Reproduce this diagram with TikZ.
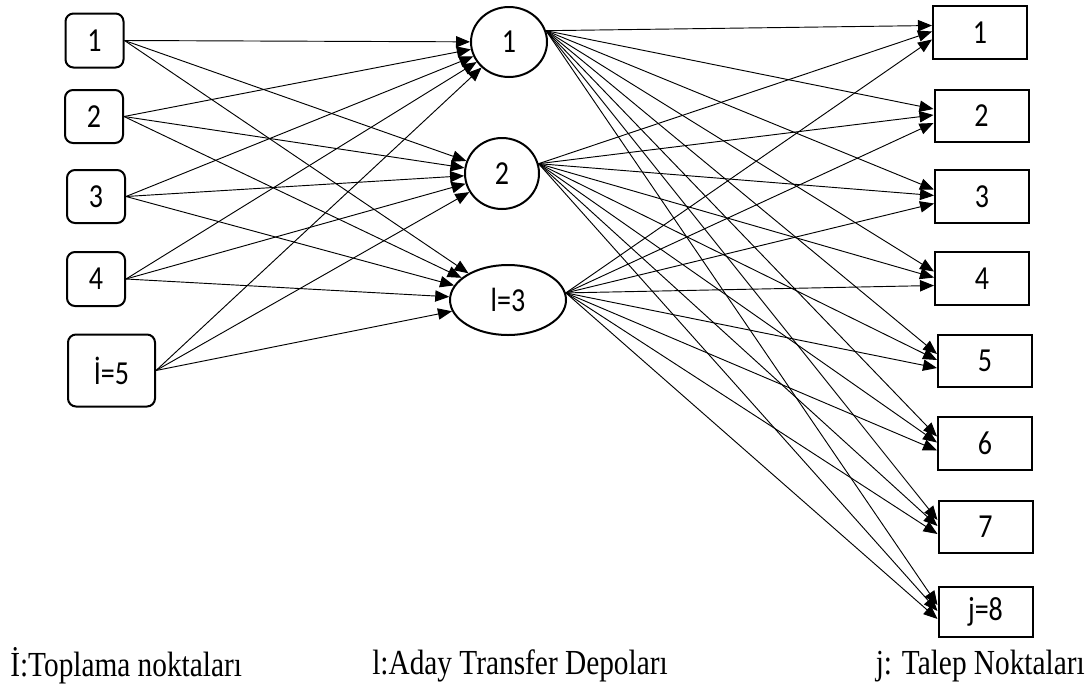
\documentclass[tikz,border=0pt]{standalone}
\usepackage{fontspec}
\usepackage{graphicx}
\setmainfont{Liberation Serif}
\newfontfamily\calfont{Carlito}
\newcommand{\vstretch}[1]{\scalebox{1}[1.2]{#1}}
\usetikzlibrary{arrows.meta,shapes.geometric}
\begin{document}
\begin{tikzpicture}[x=0.75pt,y=-0.75pt,
  numfont/.style={font=\calfont\fontsize{21}{24}\selectfont},
  src/.style={draw,line width=1.5pt,rounded corners=6pt,inner sep=0pt,numfont},
  hub/.style={draw,ellipse,line width=1.5pt,inner sep=0pt,numfont},
  dem/.style={draw,rectangle,line width=1.5pt,inner sep=0pt,numfont,minimum width=70.5pt,minimum height=39.5pt},
  lbl/.style={font=\fontsize{22}{26}\selectfont,inner sep=0pt},
  link/.style={line width=0.7pt,-{Triangle[length=10.5pt,width=8.5pt]}}]
\useasboundingbox (0,0) rectangle (1089,686);
% source nodes
\node[src,minimum width=43.5pt,minimum height=40.5pt] (l1) at (94.5,40.5) {\vstretch{1}};
\node[src,minimum width=43.5pt,minimum height=39.75pt] (l2) at (94,116.5) {\vstretch{2}};
\node[src,minimum width=43.5pt,minimum height=39.75pt] (l3) at (96,196.5) {\vstretch{3}};
\node[src,minimum width=43.5pt,minimum height=40.5pt] (l4) at (96,279) {\vstretch{4}};
\node[src,minimum width=65.25pt,minimum height=54pt] (l5) at (111.5,370.5) {\vstretch{İ=5}};
% hubs
\node[hub,minimum width=57pt,minimum height=52.5pt] (e1) at (509,42) {\vstretch{1}};
\node[hub,minimum width=55.5pt,minimum height=53.25pt] (e2) at (502,173.5) {\vstretch{2}};
\node[hub,minimum width=87pt,minimum height=52.5pt] (e3) at (508,300) {\vstretch{l=3}};
% demand nodes
\node[dem] (r1) at (980,32.5) {\vstretch{1}};
\node[dem] (r2) at (981.5,116) {\vstretch{2}};
\node[dem] (r3) at (982,196.5) {\vstretch{3}};
\node[dem] (r4) at (982,278.5) {\vstretch{4}};
\node[dem] (r5) at (985,361) {\vstretch{5}};
\node[dem] (r6) at (985,443.5) {\vstretch{6}};
\node[dem] (r7) at (985.5,527) {\vstretch{7}};
\node[dem,minimum height=37.5pt] (r8) at (985.5,612) {\vstretch{j=8}};
% connectors
\foreach \i in {1,...,5}
  \foreach \k in {1,2,3}
    \draw[link] (l\i.east) -- (e\k);
\foreach \k/\a/\s in {1/17/5.25, 2/15/0.75, 3/7/-5.25}
  \foreach \j in {1,...,8}
    \draw[link] (e\k.\a) -- ([yshift=\s pt]r\j.west);
% labels
\node[lbl,anchor=west] (t1) at (10,666) {\vstretch{İ:Toplama noktaları}};
\node[lbl,anchor=west] (t2) at (372,666) {\vstretch{l:Aday Transfer Depoları}};
\node[lbl,anchor=east] (t3) at (1085,666) {\vstretch{j: Talep Noktaları}};
\end{tikzpicture}
\end{document}
